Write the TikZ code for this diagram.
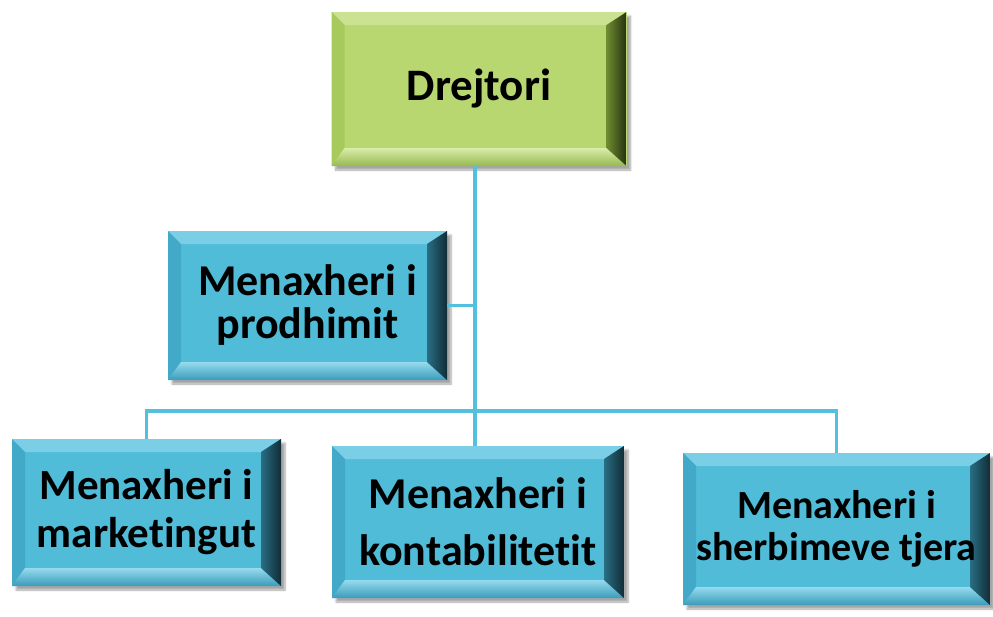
\documentclass[tikz,border=0pt]{standalone}
\usepackage{fontspec}
\setmainfont[Ligatures=NoCommon]{Carlito}
\usetikzlibrary{calc,shadows.blur}
\definecolor{gfill}{RGB}{185,215,112}
\definecolor{gtop}{RGB}{202,226,146}
\definecolor{gleft}{RGB}{166,202,92}
\definecolor{gbotA}{RGB}{218,236,170}
\definecolor{gbotB}{RGB}{150,186,78}
\definecolor{grA}{RGB}{110,140,48}
\definecolor{grB}{RGB}{38,50,16}
\definecolor{bfill}{RGB}{80,188,216}
\definecolor{btop}{RGB}{122,206,230}
\definecolor{bleft}{RGB}{66,170,200}
\definecolor{bbotA}{RGB}{150,218,238}
\definecolor{bbotB}{RGB}{58,156,186}
\definecolor{brA}{RGB}{40,110,132}
\definecolor{brB}{RGB}{18,44,54}
\definecolor{conn}{RGB}{82,192,222}
\tikzset{
  bevelbox/.style={
    draw=none, fill=#1fill, rectangle, inner sep=0pt, align=center,
    text=black,
    blur shadow={shadow xshift=4pt, shadow yshift=-4pt, shadow blur steps=6, shadow opacity=35},
    path picture={
      \coordinate (pNW) at (path picture bounding box.north west);
      \coordinate (pSE) at (path picture bounding box.south east);
      \coordinate (iNW) at ([shift={(13pt,-13pt)}]pNW);
      \coordinate (iSE) at ([shift={(-20pt,18pt)}]pSE);
      \fill[#1top] (pNW) -- (pSE |- pNW) -- (iSE |- iNW) -- (iNW) -- cycle;
      \fill[#1left] (pNW) -- (iNW) -- (iNW |- iSE) -- (pNW |- pSE) -- cycle;
      \shade[top color=#1botA, bottom color=#1botB] (pNW |- pSE) -- (iNW |- iSE) -- (iSE) -- (pSE) -- cycle;
      \shade[left color=#1rA, right color=#1rB] (pSE |- pNW) -- (pSE) -- (iSE) -- (iSE |- iNW) -- cycle;
    }},
  link/.style={draw=conn, line width=3.5pt},
}
\begin{document}
\begin{tikzpicture}[x=1pt,y=-1pt]
\useasboundingbox (0,0) rectangle (993,616);
\node[bevelbox=g, minimum width=295pt, minimum height=154pt,
  font=\bfseries\fontsize{45}{50}\selectfont] (d) at (479,89) {Drejtori};
\node[bevelbox=b, minimum width=279pt, minimum height=149pt,
  font=\bfseries\fontsize{44}{43}\selectfont] (p) at (307.5,305.5) {Menaxheri i\\prodhimit};
\node[bevelbox=b, minimum width=269pt, minimum height=147pt,
  font=\bfseries\fontsize{43}{48}\selectfont] (ml) at (146.5,512.5) {Menaxheri i\\marketingut};
\node[bevelbox=b, minimum width=292pt, minimum height=152pt,
  font=\bfseries\fontsize{44}{57}\selectfont] (mm) at (478,522) {Menaxheri i\\kontabilitetit};
\node[bevelbox=b, minimum width=307pt, minimum height=152pt,
  font=\bfseries\fontsize{40}{42}\selectfont] (mr) at (836.5,529) {Menaxheri i\\sherbimeve tjera};
\coordinate (trunk) at (475,0);
\coordinate (bus) at (0,411);
\draw[link] (d.south -| trunk) -- (mm.north -| trunk);
\draw[link] (p.east) -- (p.east -| trunk);
\draw[link] (ml.north) -- (ml.north |- bus) -- (mr.north |- bus) -- (mr.north);
\end{tikzpicture}
\end{document}
